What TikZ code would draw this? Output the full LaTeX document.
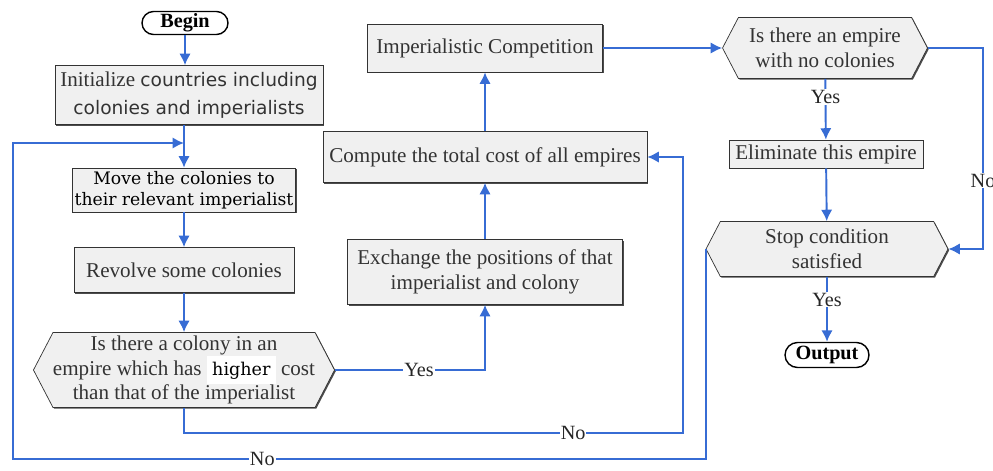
\documentclass[tikz,border=0pt]{standalone}
\usepackage{fontspec}
\setmainfont{Liberation Serif}
\newfontfamily\widesans{DejaVu Sans}
\newfontfamily\wideserif{DejaVu Serif}
\usepackage{tikz}
\usetikzlibrary{positioning}
\usetikzlibrary{arrows.meta}
\usetikzlibrary{shapes.misc,shapes.symbols,shadows}
\definecolor{flowblue}{RGB}{55,108,212}
\definecolor{boxgray}{RGB}{240,240,240}
\tikzset{box/.style={draw=black!80, fill=boxgray, align=center, inner sep=0pt,
    font=\fontsize{12}{14}\selectfont, text=black!80,
    drop shadow={shadow xshift=0.7pt, shadow yshift=-0.7pt, opacity=0.7, fill=black}}}
\tikzset{hexa/.style={box, shape=signal, signal to=west and east, signal pointer angle=125}}
\tikzset{term/.style={draw, thick, fill=white, rounded rectangle, inner sep=0pt,
    font=\bfseries\fontsize{11.5}{14}\selectfont}}
\tikzset{flow/.style={draw=flowblue, line width=1.1pt, -{Latex[length=6.5pt,width=6.5pt]}}}
\tikzset{lab/.style={fill=white, inner sep=0.5pt, font=\fontsize{11.5}{13}\selectfont, text=black!85}}

\begin{document}
\begin{tikzpicture}[x=0.02cm,y=-0.02cm]
\useasboundingbox (0,0) rectangle (993,470);
% left column
\node(Begin) at (185,23) [term, minimum width=1.72cm, minimum height=0.46cm] {Begin};
\node(Init) at (189,95) [box, minimum width=5.36cm, minimum height=1.18cm]
  {Initialize {\widesans\fontsize{10.6}{16}\selectfont countries including}\\[2pt]
   {\widesans\fontsize{10.6}{16}\selectfont colonies and imperialists}};
\node(Move) at (184,190) [box, minimum width=4.46cm, minimum height=0.88cm,
  font=\wideserif\fontsize{9.8}{12}\selectfont, text=black] {Move the colonies to\\their relevant imperialist};
\node(Revolve) at (184,270) [box, minimum width=4.4cm, minimum height=0.9cm] {Revolve some colonies};
\node(Colony) at (184,370) [hexa, minimum width=6cm, minimum height=1.5cm]
  {Is there a colony in an\\empire which has {\wideserif\fontsize{10}{12}\selectfont\colorbox{white}{\textcolor{black}{higher}}} cost\\than that of the imperialist};
% middle column
\node(Exchange) at (485,272) [box, minimum width=5.5cm, minimum height=1.3cm]
  {Exchange the positions of that\\imperialist and colony};
\node(Total) at (485,157) [box, minimum width=6.48cm, minimum height=1.02cm] {Compute the total cost of all empires};
\node(Compet) at (485,48) [box, minimum width=4.7cm, minimum height=0.96cm] {Imperialistic Competition};
% right column
\node(Empty) at (825,48) [hexa, minimum width=4.1cm, minimum height=1.22cm] {Is there an empire\\with no colonies};
\node(Elim) at (826,154) [box, minimum width=3.88cm, minimum height=0.56cm] {Eliminate this empire};
\node(Stop) at (827,249) [hexa, minimum width=4.84cm, minimum height=1.1cm] {Stop condition\\satisfied};
\node(Output) at (827,355) [term, minimum width=1.68cm, minimum height=0.5cm] {Output};

\coordinate(Join) at (184,143);
\coordinate(NoA) at (683,433);
\coordinate(NoB) at (13,459);
\coordinate(NoC) at (983,249);

\draw[flow] (Begin) -- (Init.north -| Begin);
\draw[flow] (Init.south -| Move) -- (Move);
\draw[flow] (Move) -- (Revolve);
\draw[flow] (Revolve) -- (Colony);
\draw[flow] (Colony.east) -| node[lab,pos=0.28]{Yes} (Exchange.south);
\draw[flow] (Exchange) -- (Total);
\draw[flow] (Total) -- (Compet);
\draw[flow] (Compet) -- (Empty.west);
\draw[flow] (Empty) -- node[lab,pos=0.3]{Yes} (Elim);
\draw[flow] (Elim) -- (Stop);
\draw[flow] (Empty.east) -| node[lab,pos=0.83]{No} (NoC) -- (Stop.east);
\draw[flow] (Stop) -- node[lab,pos=0.35]{Yes} (Output);
\draw[flow] (Colony.south) |- node[lab,pos=0.89]{No} (NoA) |- (Total.east);
\draw[flow] (Stop.west) |- node[lab,pos=0.82]{No} (NoB) |- (Join);
\end{tikzpicture}
\end{document}
